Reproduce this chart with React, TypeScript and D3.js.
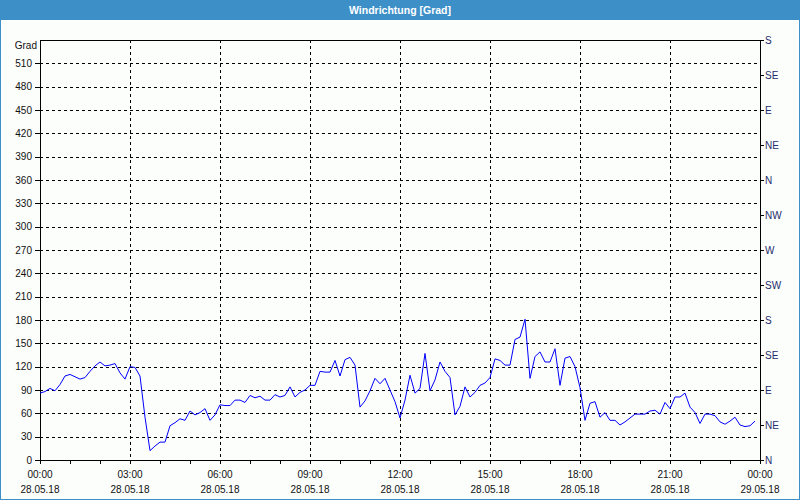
import React from 'react';
import * as d3 from 'd3';

// Windrichtung, 10-Minuten-Werte ab 28.05.18 00:00
const START = new Date(2018, 4, 28, 0, 0);
const STEP_MINUTES = 10;

const windDirection: number[] = [
  86, 88, 92, 89, 97, 108, 110, 107, 104, 106, 114, 121, 126, 121, 122, 124, 112, 104, 120, 119, 108,
  55, 12, 18, 23, 23, 44, 48, 53, 51, 63, 58, 61, 66, 51, 58, 71, 70, 70, 77, 77,
  74, 83, 80, 82, 77, 77, 84, 81,
  83, 94, 81, 87, 90, 96, 96, 114, 113, 113, 128, 108, 129, 132, 122, 68, 76, 89, 105, 98,
  105, 90, 75, 54, 77, 109, 86, 92, 137, 89, 103, 126, 114, 106, 58, 69, 94, 81, 87, 96,
  99, 106, 130, 128, 122, 122, 155, 158,
  181, 105, 133, 139, 126, 126, 143, 96, 131, 133, 120, 93, 51, 73, 75, 55, 61, 51, 51, 45,
  49, 54, 59, 59, 59, 63, 64, 59, 74, 66, 81, 81, 86, 68, 61, 47, 59, 59, 57, 49,
  46, 50, 55, 45, 43, 44, 50,
];

const leftTicks: number[] = d3.range(0, 540, 30);
const rightTicks: number[] = d3.range(0, 541, 45);
const rightLabels: string[] = ['N', 'NE', 'E', 'SE', 'S', 'SW', 'W', 'NW', 'N', 'NE', 'E', 'SE', 'S'];

const TITLE = 'Windrichtung [Grad]';
const UNIT = 'Grad';

const W = 800;
const H = 500;
const margin = { left: 40, right: 40, top: 40, bottom: 40 };
const FONT = '"Liberation Sans", Arial, sans-serif';

const App: React.FC = () => {
  const end = d3.timeHour.offset(START, 24);
  const x = d3.scaleTime().domain([START, end]).range([margin.left, W - margin.right]);
  const y = d3.scaleLinear().domain([0, 540]).range([H - margin.bottom, margin.top]);

  const points = windDirection.map((v, i) => ({
    t: d3.timeMinute.offset(START, i * STEP_MINUTES),
    v,
  }));

  const line = d3
    .line<{ t: Date; v: number }>()
    .x(d => x(d.t))
    .y(d => y(d.v));

  const majorTimes = d3.timeHour.every(3)!.range(START, d3.timeMinute.offset(end, 1));
  const minorTimes = d3.timeHour.every(1)!.range(START, d3.timeMinute.offset(end, 1));
  const fmtTime = d3.timeFormat('%H:%M');
  const fmtDate = d3.timeFormat('%d.%m.%y');

  const x0 = margin.left;
  const x1 = W - margin.right;
  const y0 = H - margin.bottom;
  const y1 = margin.top;

  return (
    <svg
      width={W}
      height={H}
      style={{ position: 'absolute', left: 0, top: 0, background: '#fcfefc' }}
      fontFamily={FONT}
    >
      {/* Titelleiste */}
      <rect x={0} y={0} width={W} height={20} fill="#3d8fc8" />
      <text x={W / 2} y={14} textAnchor="middle" fill="#ffffff" fontSize={10.5} fontWeight="bold">
        {TITLE}
      </text>
      <rect x={0.5} y={0.5} width={W - 1} height={H - 1} fill="none" stroke="#3d8fc8" />

      {/* Gitter */}
      {leftTicks
        .filter(v => v > 0)
        .map(v => (
          <line
            key={`hg${v}`}
            x1={x0}
            x2={x1}
            y1={Math.round(y(v)) + 0.5}
            y2={Math.round(y(v)) + 0.5}
            stroke="#000"
            strokeDasharray="3,3"
          />
        ))}
      {majorTimes
        .filter(t => +t > +START && +t < +end)
        .map(t => (
          <line
            key={`vg${+t}`}
            x1={Math.round(x(t)) + 0.5}
            x2={Math.round(x(t)) + 0.5}
            y1={y1}
            y2={y0}
            stroke="#000"
            strokeDasharray="3,3"
          />
        ))}

      {/* Achsen */}
      <line x1={x0 + 0.5} x2={x0 + 0.5} y1={y1} y2={y0 + 1} stroke="#000" />
      <line x1={x1 + 0.5} x2={x1 + 0.5} y1={y1} y2={y0 + 1} stroke="#000" />
      <line x1={x0} x2={x1 + 1} y1={y1 + 0.5} y2={y1 + 0.5} stroke="#000" />
      <line x1={x0} x2={x1 + 1} y1={y0 + 0.5} y2={y0 + 0.5} stroke="#000" />

      {/* linke Achse */}
      {leftTicks.map(v => (
        <g key={`lt${v}`}>
          <line x1={x0 - 5} x2={x0} y1={Math.round(y(v)) + 0.5} y2={Math.round(y(v)) + 0.5} stroke="#000" />
          <text x={x0 - 8} y={y(v) + 3.5} textAnchor="end" fontSize={10} fill="#111">
            {v}
          </text>
        </g>
      ))}
      <text x={x0 - 3} y={y(540) + 8.5} textAnchor="end" fontSize={10} fill="#111">
        {UNIT}
      </text>

      {/* rechte Achse */}
      {rightTicks.map((v, i) => (
        <g key={`rt${v}`}>
          <line x1={x1} x2={x1 + 4} y1={Math.round(y(v)) + 0.5} y2={Math.round(y(v)) + 0.5} stroke="#000" />
          <text x={x1 + 5} y={y(v) + 3.5} textAnchor="start" fontSize={10} fill="#1c2c6c">
            {rightLabels[i]}
          </text>
        </g>
      ))}

      {/* Zeitachse */}
      {minorTimes.map(t => (
        <line
          key={`mt${+t}`}
          x1={Math.round(x(t)) + 0.5}
          x2={Math.round(x(t)) + 0.5}
          y1={y0}
          y2={y0 + 4}
          stroke="#000"
        />
      ))}
      {majorTimes.map(t => (
        <g key={`xt${+t}`}>
          <text x={x(t)} y={478} textAnchor="middle" fontSize={10} fill="#111">
            {fmtTime(t)}
          </text>
          <text x={x(t)} y={493} textAnchor="middle" fontSize={10} fill="#111">
            {fmtDate(t)}
          </text>
        </g>
      ))}

      {/* Messwerte */}
      <path d={line(points) ?? ''} fill="none" stroke="#0000ff" strokeWidth={1} />
    </svg>
  );
};

export default App;
